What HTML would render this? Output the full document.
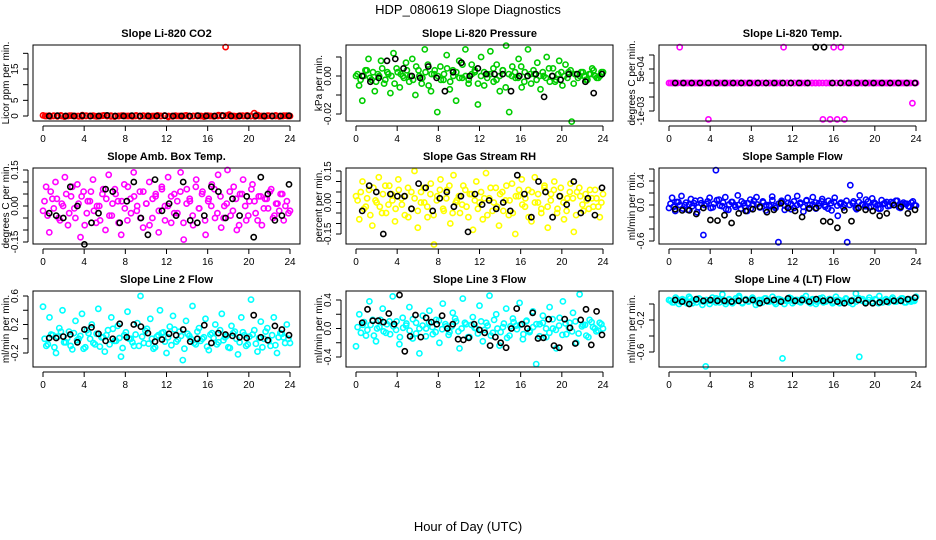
<!DOCTYPE html>
<html><head><meta charset="utf-8"><title>HDP_080619 Slope Diagnostics</title>
<style>
html,body{margin:0;padding:0;background:#fff;}
svg{display:block;font-family:"Liberation Sans",sans-serif;}
</style></head>
<body>
<svg id="chart" width="936" height="540" viewBox="0 0 936 540" xmlns="http://www.w3.org/2000/svg">
<text x="468" y="14" text-anchor="middle" font-size="13">HDP_080619  Slope Diagnostics</text>
<text x="468" y="531" text-anchor="middle" font-size="13">Hour of Day (UTC)</text>
</svg>
<script>
const xTicks = [0,4,8,12,16,20,24];

const co2Vals = [0.2,0,-0.1,0.1,0,0.2,-0.2,0,0.1,0,-0.1,0.3,0,0,0.1,-0.1,0,0.2,0,0.1,-0.2,0,0.1,0,0,-0.1,0.2,0,0.1,0,-0.1,0,0.2,0,0.1,-0.3,0,0.1,0,0,0.2,-0.1,0,0.1,0,-0.2,0.1,0,0,0.3,0.2,22,0.4,0,-0.1,0.1,0,0.2,0,0.9,0.3,0,-0.1,0.1,0,0.2,-0.1,0,0.1,0];
const co2Band = [0,0.1,0,-0.1,0,0,0.1,0,0,-0.1,0.1,0,0,0,0.1,0,-0.1,0,0,0.1,0,0,0,-0.1,0,0.1,0,0,0,0.1,0,-0.1,0,0,0.1,0,0,0,0,0.1,0,-0.1,0,0,0.1,0,0,0,0.1,0,0,-0.1,0,0,0.1,0,0,0,0.1,0];
const co2Black = [0,0.1,0,0,0.1,0,0,0.2,0,0,0.1,0,0,0,0.1,0,0,0,0.1,0,0,0.1,0,0,0,0.1,0,0,0,0.1];

const presVals = [0.000,-0.005,-0.013,0.003,0.009,-0.002,-0.008,0.001,0.008,-0.004,0.002,-0.009,0.012,0.004,-0.006,0.000,0.007,-0.003,0.009,-0.010,0.003,-0.004,0.014,0.006,-0.008,0.001,-0.019,0.005,-0.002,0.011,-0.007,0.003,-0.013,0.008,-0.001,0.014,-0.004,0.006,0.002,-0.015,0.010,-0.005,0.001,0.013,-0.003,0.006,-0.008,0.003,0.016,-0.019,0.005,-0.001,0.009,-0.006,0.002,0.014,-0.004,0.001,0.007,-0.007,0.000,0.010,-0.003,0.004,-0.002,0.008,-0.005,0.006,0.002,-0.024,0.001,-0.001,0.002,0.000,-0.002,0.001,0.003,-0.001,0.000,0.002];
const presBand = [0.001,-0.002,0.000,0.003,-0.001,0.002,-0.003,0.000,0.004,-0.002,0.001,0.000,-0.004,0.002,0.001,-0.001,0.003,0.000,-0.002,0.005,0.000,-0.001,0.002,-0.005,0.001,0.003,0.000,-0.002,0.001,0.004,-0.003,0.000,0.002,-0.001,0.006,0.000,-0.002,0.001,0.003,-0.004,0.000,0.002,-0.001,0.001,0.004,-0.002,0.000,0.003,-0.006,0.001,0.000,0.002,-0.001,0.005,-0.003,0.000,0.001,0.003,-0.002,0.000,0.002,-0.001,0.004,0.000,-0.003,0.001,0.002,0.000,-0.001,0.003,-0.004,0.001,0.000,0.002,-0.002,0.001,0.004,0.000,-0.001,0.002];
const presBlack = [0,-0.003,-0.001,0.008,0.009,0.004,0,-0.001,0.005,-0.001,-0.008,0.002,0.007,0,0.004,0.001,0.001,0.001,-0.008,0,0,0.001,-0.011,0,-0.002,0.001,0.001,-0.003,-0.009,0.001];

const tempVals = [0,0,0,0.00128,0,0,0,0,0,0,0,-0.0013,0,0,0,0,0,0,0,0,0,0,0,0,0,0,0,0,0,0,0,0,0.00128,0,0,0,0,0,0,0,0,0,0,-0.0013,0,-0.0013,0.00128,-0.0013,0.00128,-0.0013,0,0,0,0,0,0,0,0,0,0,0,0,0,0,0,0,0,0,-0.00072,0];
const tempBand = [0,0,0,0,0,0,0,0,0,0,0,0,0,0,0,0,0,0,0,0,0,0,0,0,0,0,0,0,0,0,0,0,0,0,0,0,0,0,0,0,0,0,0,0,0,0,0,0,0,0,0,0,0,0,0,0,0,0,0,0,0,0,0,0,0,0,0,0,0,0];
const tempBlack = [0,0,0,0,0,0,0,0,0,0,0,0,0,0,0,0,0,0.00128,0.00128,0,0,0,0,0,0,0,0,0,0,0];

const ambVals = [-0.02,0.08,-0.11,0.03,0.10,-0.05,0.01,0.12,-0.08,0.04,-0.01,0.09,-0.13,0.06,-0.03,0.02,0.11,-0.07,0.00,0.05,-0.10,0.13,-0.04,0.07,0.02,-0.12,0.09,-0.06,0.03,0.14,-0.02,0.06,-0.09,0.01,0.10,-0.05,0.04,-0.11,0.08,0.00,0.12,-0.07,0.05,-0.03,0.14,-0.14,0.07,0.02,-0.08,0.11,-0.01,0.06,-0.12,0.03,0.09,-0.05,0.13,-0.09,0.00,0.15,-0.04,0.08,-0.10,0.05,0.11,-0.06,0.02,0.09,-0.03,0.04,-0.08,0.03,-0.01,0.07,-0.04,0.01,0.05,-0.06,0.02,-0.02];
const ambBand = [0.02,-0.04,0.06,-0.01,0.03,-0.06,0.00,0.05,-0.03,0.08,-0.05,0.01,0.04,-0.08,0.02,0.06,-0.02,0.00,-0.06,0.07,0.03,-0.04,0.01,0.05,-0.07,0.02,-0.01,0.08,-0.03,0.04,0.00,-0.05,0.06,0.01,-0.08,0.03,0.05,-0.02,0.07,-0.06,0.00,0.04,-0.03,0.02,0.06,-0.07,0.01,0.03,-0.04,0.08,-0.01,0.05,-0.06,0.02,0.00,0.07,-0.03,0.04,-0.05,0.01,0.06,-0.02,0.03,-0.08,0.05,0.00,-0.04,0.07,0.02,-0.06,0.04,-0.01,0.03,0.06,-0.05,0.01,-0.02,0.05,0.00,-0.03];
const ambBlack = [-0.03,-0.04,-0.05,0.08,0.00,-0.16,-0.07,-0.03,0.07,0.06,-0.07,0.02,0.10,-0.05,-0.12,0.11,-0.02,0.01,-0.04,0.10,-0.06,-0.07,-0.04,0.08,0.06,-0.05,0.03,-0.04,0.04,-0.13,0.12,0.05,-0.06,-0.04,0.09];

const rhVals = [0.03,-0.08,0.10,-0.02,0.06,-0.11,0.01,0.12,-0.05,0.08,-0.01,0.04,-0.09,0.11,0.02,-0.06,0.07,-0.03,0.15,-0.12,0.05,0.00,-0.07,0.09,-0.20,0.03,0.11,-0.04,0.06,-0.10,0.13,0.01,-0.05,0.08,-0.02,0.04,-0.13,0.10,0.00,-0.08,0.14,0.02,-0.04,0.07,-0.11,0.05,0.01,-0.06,0.09,-0.15,0.03,0.11,-0.02,0.06,-0.09,0.12,0.00,-0.05,0.08,-0.12,0.04,0.10,-0.03,0.07,-0.08,0.02,0.09,-0.14,0.05,0.03,-0.04,0.01,0.06,-0.02,0.02,-0.07,0.04];
const rhBand = [0.01,0.05,-0.03,0.02,-0.06,0.07,0.00,-0.02,0.04,-0.05,0.08,0.01,-0.03,0.06,-0.01,0.03,-0.07,0.05,0.02,-0.04,0.00,0.07,-0.02,0.04,-0.06,0.01,0.06,-0.03,0.02,0.08,-0.05,0.00,0.03,-0.01,0.06,-0.07,0.04,0.01,-0.03,0.05,0.02,-0.06,0.07,0.00,-0.02,0.04,-0.04,0.08,0.01,-0.05,0.03,0.06,-0.01,0.02,-0.07,0.05,0.00,0.04,-0.03,0.07,-0.02,0.01,0.06,-0.05,0.03,0.00,-0.04,0.05,0.02,-0.06,0.07,-0.01,0.04,-0.03,0.02,0.06,-0.02,0.00];
const rhBlack = [-0.04,0.08,0.05,-0.15,0.04,0.03,0.03,-0.03,0.09,0.07,-0.04,0.02,0.05,-0.02,0.03,-0.14,0.04,-0.01,0.01,-0.03,0.00,-0.04,0.13,0.04,-0.07,0.10,0.05,-0.07,0.03,-0.01,0.10,-0.05,0.02,-0.06,0.07];

const flowVals = [-0.05,0.12,-0.10,0.05,0.15,0.00,-0.08,0.10,0.03,-0.12,0.08,-0.50,0.02,0.12,-0.04,0.58,0.09,-0.02,0.13,-0.08,0.05,0.00,0.16,-0.06,0.03,-0.10,0.09,0.01,0.13,-0.04,0.06,-0.09,0.00,0.14,-0.02,-0.62,0.07,-0.08,0.12,0.02,-0.05,0.15,0.04,-0.11,0.08,0.00,0.13,-0.06,0.03,0.10,-0.03,0.07,-0.09,0.12,-0.18,0.04,0.01,-0.62,0.33,0.06,-0.07,0.16,0.00,0.09,-0.04,0.11,0.02,-0.06,0.08,0.03,-0.02,0.05,0.00,0.07,-0.05,0.04,0.02,-0.03,0.06,-0.01];
const flowBand = [0.02,-0.03,0.05,0.00,-0.06,0.04,0.01,-0.02,0.07,-0.04,0.03,0.00,0.06,-0.05,0.02,0.08,-0.01,0.04,-0.07,0.01,0.05,-0.03,0.00,0.06,-0.02,0.03,-0.06,0.07,0.01,-0.04,0.04,0.00,-0.02,0.08,-0.05,0.02,0.05,-0.01,0.03,-0.07,0.06,0.00,0.02,-0.03,0.07,-0.05,0.01,0.04,-0.02,0.06,0.00,-0.06,0.03,0.05,-0.01,0.02,-0.04,0.07,0.00,0.03,-0.05,0.05,0.01,-0.02,0.06,-0.03,0.04,0.00,-0.06,0.02,0.05,-0.01,0.03,0.07,-0.04,0.01,0.02,-0.02,0.04,0.00];
const flowBlack = [-0.07,-0.09,-0.09,-0.15,-0.05,-0.25,-0.26,-0.17,-0.30,-0.14,-0.10,-0.07,-0.03,-0.12,-0.08,0.03,-0.05,-0.10,-0.20,-0.06,-0.05,-0.27,-0.28,-0.38,-0.09,-0.27,-0.05,-0.08,-0.10,-0.18,-0.14,0.00,-0.03,-0.14,-0.08];

const l2Vals = [0.45,-0.10,0.30,0.05,-0.20,0.15,0.40,-0.05,0.10,-0.15,0.25,0.00,0.35,-0.12,0.08,0.20,-0.08,0.42,0.02,-0.18,0.12,0.30,-0.03,0.18,-0.25,0.05,0.38,0.00,-0.10,0.22,0.60,-0.06,0.14,0.28,-0.14,0.03,0.40,0.09,-0.20,0.17,0.32,-0.04,0.10,-0.30,0.25,0.04,0.46,-0.08,0.15,0.00,0.28,-0.16,0.08,0.20,-0.05,0.35,0.02,-0.12,0.18,0.10,-0.22,0.30,0.05,-0.08,0.55,0.12,-0.18,0.24,0.00,0.15,-0.10,0.30,-0.20,0.08,0.02,0.20,-0.06];
const l2Band = [0.00,-0.08,0.06,-0.12,0.03,0.10,-0.05,0.01,-0.10,0.08,-0.02,0.04,-0.14,0.12,0.00,-0.06,0.07,-0.11,0.02,0.05,-0.08,0.14,-0.03,0.01,-0.13,0.09,0.00,-0.05,0.06,-0.10,0.03,0.11,-0.07,0.00,-0.12,0.05,0.08,-0.04,0.02,-0.09,0.13,-0.01,0.04,-0.14,0.07,0.00,-0.06,0.10,-0.03,0.02,-0.11,0.06,0.01,-0.08,0.12,-0.02,0.04,-0.13,0.08,0.00,-0.05,0.09,-0.10,0.03,0.06,-0.07,0.01,-0.12,0.10,-0.03,0.05,-0.09,0.02,0.07,-0.06,0.00];
const l2Black = [0.01,0.01,0.03,0.06,-0.05,0.13,0.16,0.07,-0.03,0.00,0.21,0.02,0.20,0.17,0.08,-0.04,-0.01,0.07,0.05,0.13,-0.04,0.00,0.19,-0.06,0.08,0.06,0.04,0.02,0.01,0.33,0.02,-0.02,0.18,0.13,0.05];

const l3Vals = [-0.25,0.20,0.05,-0.10,0.38,0.12,-0.18,0.02,0.28,-0.06,0.10,0.45,-0.02,-0.22,0.15,0.04,0.30,-0.14,0.08,-0.35,0.18,0.00,0.25,-0.08,0.12,-0.20,0.35,0.03,-0.05,0.22,0.10,-0.28,0.42,0.06,-0.12,0.16,0.00,0.32,-0.18,0.08,0.46,-0.06,0.20,-0.24,0.02,0.28,-0.10,0.14,0.04,0.36,-0.15,0.10,-0.05,0.24,-0.50,0.06,0.18,-0.12,0.30,0.00,-0.28,0.15,0.38,-0.08,0.08,0.22,-0.20,0.48,0.05,-0.10,0.12,0.02,-0.04,0.08,0.00];
const l3Band = [0.02,-0.06,0.09,-0.02,0.05,-0.10,0.00,0.12,-0.04,0.06,-0.08,0.03,0.10,-0.12,0.01,0.07,-0.03,0.13,-0.07,0.00,0.04,-0.11,0.08,0.02,-0.05,0.11,-0.01,0.06,-0.09,0.03,0.14,-0.04,0.00,0.08,-0.12,0.05,0.01,-0.07,0.10,-0.02,0.04,-0.10,0.12,0.00,-0.05,0.07,-0.13,0.03,0.09,-0.01,0.05,-0.08,0.11,-0.03,0.02,0.06,-0.11,0.08,0.00,-0.06,0.13,-0.02,0.04,-0.09,0.07,0.01,-0.04,0.10,-0.07,0.03,0.05,-0.12,0.09,0.00,-0.03,0.06];
const l3Black = [0.08,0.27,0.11,0.11,0.09,0.21,0.06,0.47,-0.32,-0.11,0.19,-0.12,0.15,0.09,0.06,0.18,0.00,0.06,-0.15,-0.16,-0.13,0.06,-0.02,-0.06,-0.24,-0.12,-0.20,-0.27,0.00,0.28,0.06,0.00,0.22,-0.14,-0.13,0.13,-0.24,-0.27,0.13,0.01,-0.21,0.12,0.27,-0.23,0.24,-0.09];

const l4Vals = [0.05,0.02,0.08,0.00,0.06,0.03,0.09,0.01,0.05,0.07,-0.01,-0.78,0.04,0.08,0.02,0.06,0.12,0.00,0.05,0.03,0.07,0.10,0.01,0.06,0.04,0.08,-0.01,0.05,0.02,0.07,0.03,0.09,0.00,0.06,-0.68,0.04,0.08,0.01,0.05,0.03,0.07,0.10,0.02,0.06,0.00,0.04,0.08,0.03,0.06,0.01,0.09,0.05,0.02,0.07,0.04,0.00,0.13,-0.66,0.06,0.03,0.08,0.01,0.05,0.10,0.02,0.06,0.04,0.08,0.03,0.05,0.07,0.02,0.06,0.04,0.09];
const l4Band = [0.04,0.02,0.06,0.03,0.05,0.01,0.07,0.04,0.02,0.06,0.03,0.05,0.00,0.04,0.07,0.02,0.05,0.03,0.06,0.01,0.04,0.08,0.02,0.05,0.03,0.06,0.04,0.01,0.05,0.07,0.03,0.04,0.02,0.06,0.05,0.00,0.04,0.07,0.03,0.05,0.02,0.06,0.04,0.01,0.05,0.03,0.07,0.02,0.04,0.06,0.03,0.05,0.01,0.04,0.06,0.02,0.05,0.03,0.07,0.04,0.02,0.05,0.03,0.06,0.01,0.04,0.05,0.02,0.06,0.03,0.04,0.07,0.02,0.05,0.03,0.04];
const l4Black = [0.05,0.03,0.00,0.06,0.04,0.05,0.04,0.04,0.03,0.04,0.05,0.05,0.01,0.04,0.05,0.03,0.07,0.04,0.05,0.03,0.06,0.04,0.05,0.03,0.01,0.04,0.05,0.01,0.01,0.02,0.03,0.04,0.04,0.06,0.08];

const panels = [
 {name:"co2",title:"Slope Li-820 CO2",ylab:"Licor ppm per min.",col:0,row:0,color:"#ff0000",vals:co2Vals,band:co2Band,black:co2Black,ref:[0,116,15,69],ticks:[0,5,10,15,20],labels:[[0,"0"],[5,"5"],[15,"15"]]},
 {name:"pressure",title:"Slope Li-820 Pressure",ylab:"kPa per min.",col:1,row:0,color:"#00cd00",vals:presVals,band:presBand,black:presBlack,ref:[0,76,-0.02,114],ticks:[0.01,0,-0.01,-0.02],labels:[[0,"0.00"],[-0.02,"-0.02"]]},
 {name:"temp",title:"Slope Li-820 Temp.",ylab:"degrees C per min.",col:2,row:0,color:"#ff00ff",vals:tempVals,band:tempBand,black:tempBlack,ref:[0,83,-0.001,111],ticks:[0.001,0.0005,0,-0.0005,-0.001],labels:[[0.0005,"5e-04"],[-0.001,"-1e-03"]]},
 {name:"amb-box-temp",title:"Slope Amb. Box Temp.",ylab:"degrees C per min.",col:0,row:1,color:"#ff00ff",vals:ambVals,band:ambBand,black:ambBlack,ref:[0.15,170,-0.15,242],ticks:[0.15,0.1,0.05,0,-0.05,-0.1,-0.15],labels:[[0.15,"0.15"],[0,"0.00"],[-0.15,"-0.15"]]},
 {name:"gas-stream-rh",title:"Slope Gas Stream RH",ylab:"percent per min.",col:1,row:1,color:"#ffff00",vals:rhVals,band:rhBand,black:rhBlack,ref:[0.15,171,-0.15,234],ticks:[0.15,0.1,0.05,0,-0.05,-0.1,-0.15],labels:[[0.15,"0.15"],[0,"0.00"],[-0.15,"-0.15"]]},
 {name:"sample-flow",title:"Slope Sample Flow",ylab:"ml/min per min.",col:2,row:1,color:"#0000ff",vals:flowVals,band:flowBand,black:flowBlack,ref:[0.4,181,-0.6,241],ticks:[0.6,0.4,0.2,0,-0.2,-0.4,-0.6],labels:[[0.4,"0.4"],[0,"0.0"],[-0.6,"-0.6"]]},
 {name:"line2-flow",title:"Slope Line 2 Flow",ylab:"ml/min per min.",col:0,row:2,color:"#00ffff",vals:l2Vals,band:l2Band,black:l2Black,ref:[0.6,296,-0.2,353],ticks:[0.6,0.4,0.2,0,-0.2],labels:[[0.6,"0.6"],[0.2,"0.2"],[-0.2,"-0.2"]]},
 {name:"line3-flow",title:"Slope Line 3 Flow",ylab:"ml/min per min.",col:1,row:2,color:"#00ffff",vals:l3Vals,band:l3Band,black:l3Black,ref:[0.4,300,-0.4,357],ticks:[0.4,0.2,0,-0.2,-0.4],labels:[[0.4,"0.4"],[0,"0.0"],[-0.4,"-0.4"]]},
 {name:"line4-flow",title:"Slope Line 4 (LT) Flow",ylab:"ml/min per min.",col:2,row:2,color:"#00ffff",vals:l4Vals,band:l4Band,black:l4Black,ref:[0,304,-0.6,352],ticks:[0,-0.2,-0.4,-0.6],labels:[[-0.2,"-0.2"],[-0.6,"-0.6"]]}
];

const NS = "http://www.w3.org/2000/svg";
const svg = document.getElementById("chart");
const colLeft = [33,346,659];
const rowTop = [45,168,291];
const boxW = 267, boxH = 76;

function mk(tag, attrs, parent){
  const e = document.createElementNS(NS, tag);
  for (const k in attrs) e.setAttribute(k, attrs[k]);
  parent.appendChild(e);
  return e;
}

panels.forEach(p => {
  const L = colLeft[p.col], T = rowTop[p.row];
  const g = mk("g", {}, svg);
  
  
  const xs = h => L + 10 + h * 247 / 24;
  const ys = v => p.ref[1] + (v - p.ref[0]) * (p.ref[3] - p.ref[1]) / (p.ref[2] - p.ref[0]);

  const title = mk("text", {x: L + boxW/2, y: T - 8, "text-anchor":"middle", "font-size":"11", "font-weight":"bold"}, g);
  title.textContent = p.title;
  
  

  const pts = mk("g", {fill:"none", "stroke-width":"1.6"}, g);
  
  
  p.band.forEach((v, i) => {
    const h = (i + 0.5) * 24 / p.band.length;
    const c = mk("circle", {cx: xs(h).toFixed(1), cy: ys(v).toFixed(1), r: 2.6, stroke: p.color}, pts);
    
    
  });
  p.vals.forEach((v, i) => {
    const h = i * 24 / (p.vals.length - 1);
    const c = mk("circle", {cx: xs(h).toFixed(1), cy: ys(v).toFixed(1), r: 2.6, stroke: p.color}, pts);
    
    
  });
  p.black.forEach((v, i) => {
    const h = 0.6 + i * 23.3 / (p.black.length - 1);
    const c = mk("circle", {cx: xs(h).toFixed(1), cy: ys(v).toFixed(1), r: 2.6, stroke: "#000"}, pts);
    
    
  });

  const box = mk("rect", {x: L, y: T, width: boxW, height: boxH, fill:"none", stroke:"#000", "stroke-width":"1"}, g);
  
  

  const xa = mk("g", {}, g);
  
  
  mk("line", {x1: xs(0), x2: xs(24), y1: T+boxH+5, y2: T+boxH+5, stroke:"#000"}, xa);
  xTicks.forEach(t => {
    mk("line", {x1: xs(t), x2: xs(t), y1: T+boxH+5, y2: T+boxH+10, stroke:"#000"}, xa);
    const tx = mk("text", {x: xs(t), y: T+boxH+21, "text-anchor":"middle", "font-size":"10"}, xa);
    tx.textContent = t;
  });

  const ya = mk("g", {}, g);
  
  
  const t0 = Math.max(...p.ticks), t1 = Math.min(...p.ticks);
  mk("line", {x1: L-5, x2: L-5, y1: ys(t0), y2: ys(t1), stroke:"#000"}, ya);
  p.ticks.forEach(t => {
    mk("line", {x1: L-10, x2: L-5, y1: ys(t), y2: ys(t), stroke:"#000"}, ya);
  });
  p.labels.forEach(([v, s]) => {
    const y = ys(v);
    const tx = mk("text", {x: L-15, y: y, "text-anchor":"middle", "font-size":"10", transform:`rotate(-90 ${L-15} ${y})`}, ya);
    tx.textContent = s;
  });
  const yl = mk("text", {x: L-24, y: T+boxH/2, "text-anchor":"middle", "font-size":"10", transform:`rotate(-90 ${L-24} ${T+boxH/2})`}, g);
  yl.textContent = p.ylab;
  
  
});
</script>
</body></html>
